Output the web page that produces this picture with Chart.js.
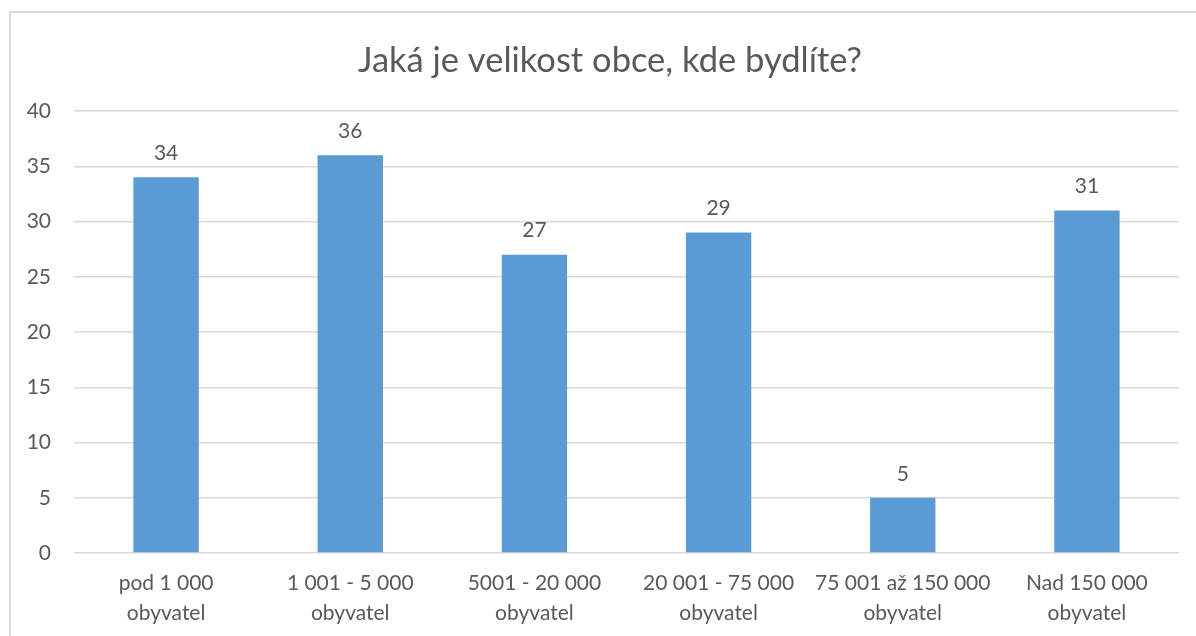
<!DOCTYPE html>
<html>
<head>
<meta charset="utf-8">
<script src="https://cdn.jsdelivr.net/npm/chart.js@4/dist/chart.umd.min.js"></script>
<style>
html,body{margin:0;padding:0;background:#fff;overflow:hidden;}
#frame{position:absolute;left:9px;top:11px;width:1300px;height:800px;border:2px solid #D9D9D9;box-sizing:border-box;}
#wrap{position:absolute;left:0;top:0;width:1196px;height:636px;}
</style>
</head>
<body>
<div id="frame"></div>
<div id="wrap"><canvas id="c" width="1196" height="636"></canvas></div>
<script>
const title = 'Jaká je velikost obce, kde bydlíte?';
const categories = [
  ['pod 1 000', 'obyvatel'],
  ['1 001 - 5 000', 'obyvatel'],
  ['5001 - 20 000', 'obyvatel'],
  ['20 001 - 75 000', 'obyvatel'],
  ['75 001 až 150 000', 'obyvatel'],
  ['Nad 150 000', 'obyvatel']
];
const values = [34, 36, 27, 29, 5, 31];
const yMin = 0, yMax = 40, yStep = 5;

const FONT = 'Lato, "Open Sans", sans-serif';
const TXT = '#595959';

const titlePlugin = {
  id: 'titleDraw',
  afterDraw(chart) {
    const ctx = chart.ctx;
    ctx.save();
    ctx.font = '34.5px ' + FONT;
    ctx.fillStyle = TXT;
    ctx.textAlign = 'center';
    ctx.textBaseline = 'middle';
    ctx.fillText(title, 610, 61);
    ctx.restore();
  }
};
const labelPlugin = {
  id: 'valLabels',
  afterDatasetsDraw(chart) {
    const ctx = chart.ctx;
    const meta = chart.getDatasetMeta(0);
    ctx.save();
    ctx.font = '21px ' + FONT;
    ctx.fillStyle = TXT;
    ctx.textAlign = 'center';
    ctx.textBaseline = 'middle';
    meta.data.forEach((bar, i) => {
      ctx.fillText(String(chart.data.datasets[0].data[i]), bar.x, bar.y - 24);
    });
    ctx.restore();
  }
};

new Chart(document.getElementById('c'), {
  type: 'bar',
  data: {
    labels: categories,
    datasets: [{
      data: values,
      backgroundColor: '#5B9BD5',
      borderWidth: 0,
      categoryPercentage: 1,
      barPercentage: 0.355
    }]
  },
  options: {
    responsive: false,
    animation: false,
    layout: { padding: { left: 10, right: 17, top: 111, bottom: 0 } },
    plugins: { legend: { display: false }, title: { display: false }, tooltip: { enabled: false } },
    scales: {
      x: {
        afterFit(scale) { scale.height = 83; },
        grid: { display: false, drawTicks: false },
        border: { display: false },
        ticks: { color: TXT, font: { family: FONT, size: 21, lineHeight: 1.45 }, padding: 15, maxRotation: 0, autoSkip: false }
      },
      y: {
        min: yMin, max: yMax,
        afterFit(scale) { scale.width = 64; },
        grid: { color: '#D9D9D9', lineWidth: 1.5, drawTicks: false },
        border: { display: false },
        ticks: { stepSize: yStep, color: TXT, font: { family: FONT, size: 21 }, padding: 23 }
      }
    }
  },
  plugins: [titlePlugin, labelPlugin]
});
</script>
</body>
</html>
